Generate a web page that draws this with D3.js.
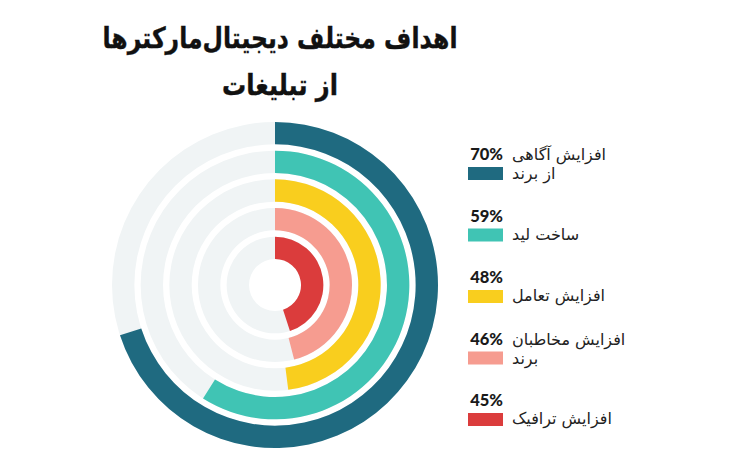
<!DOCTYPE html>
<html><head><meta charset="utf-8">
<script src="https://cdn.jsdelivr.net/npm/d3@7"></script>
<style>body{margin:0;background:#fff}svg{display:block}</style>
</head><body><svg id="c" width="740" height="470"></svg>
<script>
const titleLines = ["اهداف مختلف دیجیتال‌مارکترها", "از تبلیغات"];
const categories = [["افزایش آگاهی", "از برند"], ["ساخت لید"], ["افزایش تعامل"], ["افزایش مخاطبان", "برند"], ["افزایش ترافیک"]];
const values = [70, 59, 48, 46, 45];
const colors = ["#1f6a80", "#40c4b4", "#f9ce1e", "#f69c90", "#db3c3c"];

const svg = d3.select("#c");
const cx = 275, cy = 285, rOuter = 163, rInner = 26;
const band = d3.scaleBand().domain(d3.range(values.length).reverse()).range([rInner, rOuter]).paddingInner(0.22);
const ang = d3.scaleLinear().domain([0, 100]).range([0, 2 * Math.PI]);
const arc = d3.arc();
const g = svg.append("g").attr("transform", `translate(${cx},${cy})`);
values.forEach((v, i) => {
  const r0 = band(i), r1 = band(i) + band.bandwidth();
  g.append("path").attr("fill", "#f0f4f5")
    .attr("d", arc({innerRadius: r0, outerRadius: r1, startAngle: 0, endAngle: 2 * Math.PI}));
  g.append("path").attr("fill", colors[i])
    .attr("d", arc({innerRadius: r0, outerRadius: r1, startAngle: 0, endAngle: ang(v)}));
});

const font = "'DejaVu Sans', 'Noto Sans', sans-serif";
const titleW = [355, 116];
svg.selectAll("text.title").data(titleLines).join("text").attr("class", "title")
  .attr("x", 280).attr("y", (d, i) => 48 + i * 47)
  .attr("text-anchor", "middle").attr("font-family", font).attr("font-weight", "bold")
  .attr("font-size", 29).attr("fill", "#111").attr("stroke", "#111").attr("stroke-width", 0.4)
  .attr("textLength", (d, i) => titleW[i]).attr("lengthAdjust", "spacingAndGlyphs")
  .text(d => d);

const leg = svg.append("g");
values.forEach((v, i) => {
  const y0 = 160 + i * 61.5;
  const item = leg.append("g").attr("transform", `translate(0,${y0})`);
  item.append("text").attr("x", 503).attr("y", 0).attr("text-anchor", "end")
    .attr("font-family", "Lato, 'Open Sans', sans-serif").attr("font-weight", 900)
    .attr("font-size", 16.5).attr("fill", "#1a1a1a").text(v + "%");
  item.append("rect").attr("x", 468).attr("y", 7).attr("width", 35).attr("height", 13).attr("fill", colors[i]);
  const lines = categories[i];
  lines.forEach((t, j) => {
    const yy = lines.length === 1 ? 18 : j * 19;
    item.append("text").attr("x", 512).attr("y", yy).attr("text-anchor", "start")
      .attr("font-family", font).attr("font-size", 16).attr("fill", "#222").text(t);
  });
});
</script></body></html>
